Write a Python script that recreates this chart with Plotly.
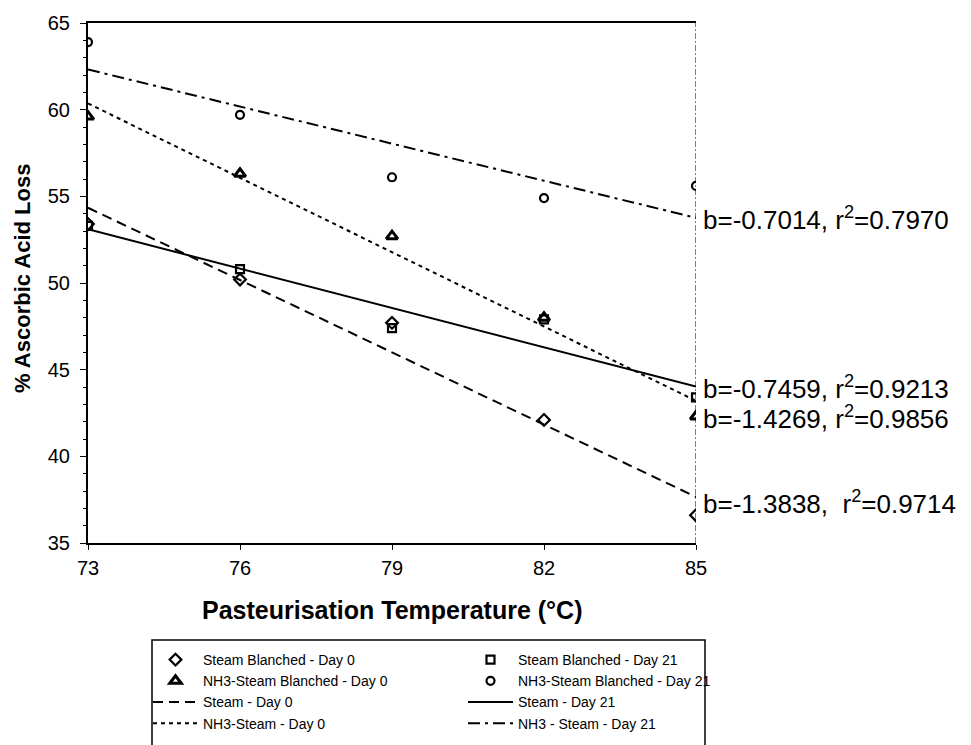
import numpy as np
import plotly.graph_objects as go

# ---------------- data ----------------
temps = [73, 76, 79, 82, 85]
steam_day0 = [53.4, 50.2, 47.7, 42.1, 36.6]
steam_day21 = [53.3, 50.8, 47.4, 47.9, 43.4]
nh3_day0 = [59.6, 56.3, 52.7, 48.0, 42.3]
nh3_day21 = [63.9, 59.7, 56.1, 54.9, 55.6]

fit_labels = [
    "b=-0.7014, r<sup>2</sup>=0.7970",
    "b=-0.7459, r<sup>2</sup>=0.9213",
    "b=-1.4269, r<sup>2</sup>=0.9856",
    "b=-1.3838,  r<sup>2</sup>=0.9714",
]
fit_label_y = [53.75, 43.95, 42.25, 37.35]

x_ticks = [73, 76, 79, 82, 85]
y_ticks = [35, 40, 45, 50, 55, 60, 65]

FONT = "Liberation Sans, Arial, sans-serif"

# plot area in pixels
W, H = 971, 745
L, R, T, B = 88, 696, 23, 543


def px_to_paper_x(px):
    return (px - L) / (R - L)


def px_to_paper_y(py):
    return (B - py) / (B - T)


def fit_line(x, y):
    b, a = np.polyfit(x, y, 1)
    xs = np.array([min(x), max(x)])
    return xs, a + b * xs


fig = go.Figure()

# marker series
fig.add_trace(go.Scatter(x=temps, y=steam_day0, mode="markers", name="Steam Blanched - Day 0",
                         marker=dict(symbol="diamond-open", size=9, color="black", line=dict(width=2.2, color="black")),
                         legend="legend"))
fig.add_trace(go.Scatter(x=temps, y=nh3_day0, mode="markers", name="NH3-Steam Blanched - Day 0",
                         marker=dict(symbol="triangle-up-open", size=10, color="black", line=dict(width=3, color="black")),
                         legend="legend"))
fig.add_trace(go.Scatter(x=temps, y=steam_day21, mode="markers", name="Steam Blanched - Day 21",
                         marker=dict(symbol="square-open", size=8, color="black", line=dict(width=2.2, color="black")),
                         legend="legend2"))
fig.add_trace(go.Scatter(x=temps, y=nh3_day21, mode="markers", name="NH3-Steam Blanched - Day 21",
                         marker=dict(symbol="circle-open", size=8, color="black", line=dict(width=2.2, color="black")),
                         legend="legend2"))

# trend lines
xs, ys = fit_line(temps, steam_day0)
fig.add_trace(go.Scatter(x=xs, y=ys, mode="lines", name="Steam - Day 0",
                         line=dict(color="black", width=2, dash="10px,6px"), legend="legend"))
xs, ys = fit_line(temps, nh3_day0)
fig.add_trace(go.Scatter(x=xs, y=ys, mode="lines", name="NH3-Steam - Day 0",
                         line=dict(color="black", width=2, dash="4px,4px"), legend="legend"))
xs, ys = fit_line(temps, steam_day21)
fig.add_trace(go.Scatter(x=xs, y=ys, mode="lines", name="Steam - Day 21",
                         line=dict(color="black", width=2), legend="legend2"))
xs, ys = fit_line(temps, nh3_day21)
fig.add_trace(go.Scatter(x=xs, y=ys, mode="lines", name="NH3 - Steam - Day 21",
                         line=dict(color="black", width=2, dash="12px,5px,3px,5px"), legend="legend2"))

# annotations with regression stats
annotations = []
for txt, yy in zip(fit_labels, fit_label_y):
    annotations.append(dict(x=85, y=yy, xref="x", yref="y", text=txt, showarrow=False,
                            xanchor="left", yanchor="middle", xshift=5,
                            font=dict(family=FONT, size=26, color="black")))

# axis titles
annotations.append(dict(x=0.5, y=px_to_paper_y(610), xref="paper", yref="paper",
                        text="<b>Pasteurisation Temperature (°C)</b>", showarrow=False,
                        xanchor="center", yanchor="middle",
                        font=dict(family=FONT, size=25, color="black")))
annotations.append(dict(x=px_to_paper_x(22), y=px_to_paper_y(279), xref="paper", yref="paper",
                        text="<b>% Ascorbic Acid Loss</b>", showarrow=False, textangle=-90,
                        xanchor="center", yanchor="middle",
                        font=dict(family=FONT, size=22, color="black")))

shapes = [
    # right border (dash-dot)
    dict(type="line", xref="x", yref="y", x0=85, x1=85, y0=35, y1=65,
         line=dict(color="black", width=1, dash="6px,2px,2px,2px")),
    # legend box
    dict(type="rect", xref="paper", yref="paper",
         x0=px_to_paper_x(152), x1=px_to_paper_x(705),
         y0=px_to_paper_y(640), y1=px_to_paper_y(770),
         line=dict(color="black", width=1.5), fillcolor="rgba(0,0,0,0)"),
]

legend_common = dict(orientation="v", xanchor="left", yanchor="top", bgcolor="rgba(0,0,0,0)",
                     borderwidth=0, itemwidth=45, tracegroupgap=0,
                     font=dict(family=FONT, size=14, color="black"))

fig.update_layout(
    width=W, height=H,
    margin=dict(l=L, r=W - R, t=T, b=H - B, autoexpand=False),
    paper_bgcolor="white", plot_bgcolor="white",
    showlegend=True,
    legend=dict(x=px_to_paper_x(148), y=px_to_paper_y(644), **legend_common),
    legend2=dict(x=px_to_paper_x(463), y=px_to_paper_y(644), **legend_common),
    annotations=annotations,
    shapes=shapes,
    xaxis=dict(range=[73, 85], tickvals=x_ticks, ticktext=[str(t) for t in x_ticks],
               showline=True, linecolor="black", linewidth=2, mirror=True,
               ticks="outside", ticklen=5, tickcolor="black", tickwidth=1,
               ticklabelstandoff=1,
               showgrid=False, zeroline=False,
               tickfont=dict(family=FONT, size=20, color="black")),
    yaxis=dict(range=[35, 65], tickvals=y_ticks, ticktext=[str(t) for t in y_ticks],
               showline=True, linecolor="black", linewidth=2,
               ticks="outside", ticklen=6, tickcolor="black", tickwidth=1,
               ticklabelstandoff=6,
               minor=dict(dtick=1, ticks="outside", ticklen=3, tickcolor="black"),
               showgrid=False, zeroline=False,
               tickfont=dict(family=FONT, size=20, color="black")),
)

fig.write_html("out.html")
